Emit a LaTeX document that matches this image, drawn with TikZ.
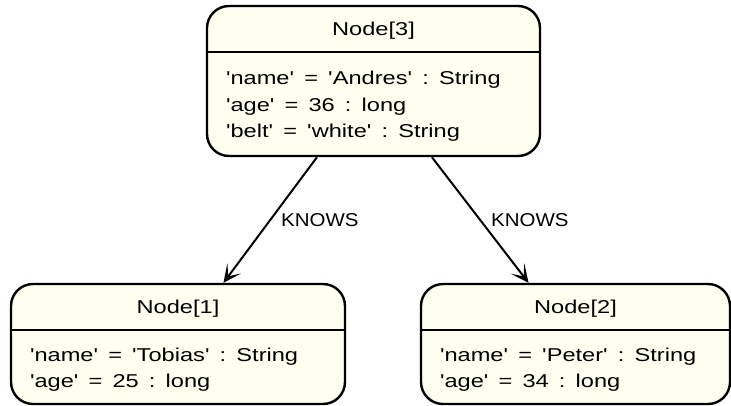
\documentclass[tikz,border=0pt]{standalone}
\usepackage{fontspec}
\setmainfont{Liberation Sans}
\newfontfamily\boxfont[FakeStretch=1.27, WordSpace=1.55]{Liberation Sans}
\newfontfamily\edgefont[FakeStretch=1.1]{Liberation Sans}
\usetikzlibrary{positioning, arrows.meta}
\definecolor{nodefill}{HTML}{FFFFEF}
\definecolor{nodeline}{HTML}{000000}
\frenchspacing

\begin{document}
\begin{tikzpicture}[
    x=1pt, y=-1pt,
    >={Stealth[length=18pt, width=17pt, inset=10pt]},
    entity/.style={draw=nodeline, fill=nodefill, rounded corners=22pt, line width=2.4pt, inner sep=0pt},
    divider/.style={draw=nodeline, line width=2.2pt},
    title/.style={font=\boxfont\fontsize{18.6}{27}\selectfont, anchor=base, inner sep=0pt},
    prop/.style={font=\boxfont\fontsize{18.6}{27}\selectfont, anchor=base west, inner sep=0pt},
    rel/.style={font=\edgefont\fontsize{18.6}{22}\selectfont, inner sep=1pt},
]

% Frame
\useasboundingbox (0,0) rectangle (731,405);

% Nodes (top, then the two below)
\node[entity, minimum width=333pt, minimum height=150pt] (n3) at (373.5,81) {};
\node[entity, minimum width=334pt, minimum height=120pt] (n1) at (178,344) {};
\node[entity, minimum width=309pt, minimum height=120pt] (n2) at (575.5,344) {};

% Header lines
\draw[divider] ([yshift=-47pt]n3.north west) -- ([yshift=-47pt]n3.north east);
\draw[divider] ([yshift=-47pt]n1.north west) -- ([yshift=-47pt]n1.north east);
\draw[divider] ([yshift=-47pt]n2.north west) -- ([yshift=-47pt]n2.north east);

% Titles
\node[title] (n3title) at ([yshift=-31pt]n3.north) {Node[3]};
\node[title] (n1title) at ([yshift=-31pt]n1.north) {Node[1]};
\node[title] (n2title) at ([yshift=-31pt]n2.north) {Node[2]};

% Properties
\node[prop] (n3name) at ([xshift=20pt, yshift=-80pt]n3.north west) {'name' = 'Andres' : String};
\node[prop] (n3age)  at ([xshift=20pt, yshift=-106.5pt]n3.north west) {'age' = 36 : long};
\node[prop] (n3belt) at ([xshift=20pt, yshift=-133pt]n3.north west) {'belt' = 'white' : String};

\node[prop] (n1name) at ([xshift=20pt, yshift=-78.5pt]n1.north west) {'name' = 'Tobias' : String};
\node[prop] (n1age)  at ([xshift=20pt, yshift=-105pt]n1.north west) {'age' = 25 : long};

\node[prop] (n2name) at ([xshift=20pt, yshift=-78.5pt]n2.north west) {'name' = 'Peter' : String};
\node[prop] (n2age)  at ([xshift=20pt, yshift=-105pt]n2.north west) {'age' = 34 : long};

% Relationships
\draw[->, line width=2pt] (n3) -- (n1) node[rel, midway, right=9pt] (knows1) {KNOWS};
\draw[->, line width=2pt] (n3) -- (n2) node[rel, midway, right=9pt] (knows2) {KNOWS};

\end{tikzpicture}
\end{document}
